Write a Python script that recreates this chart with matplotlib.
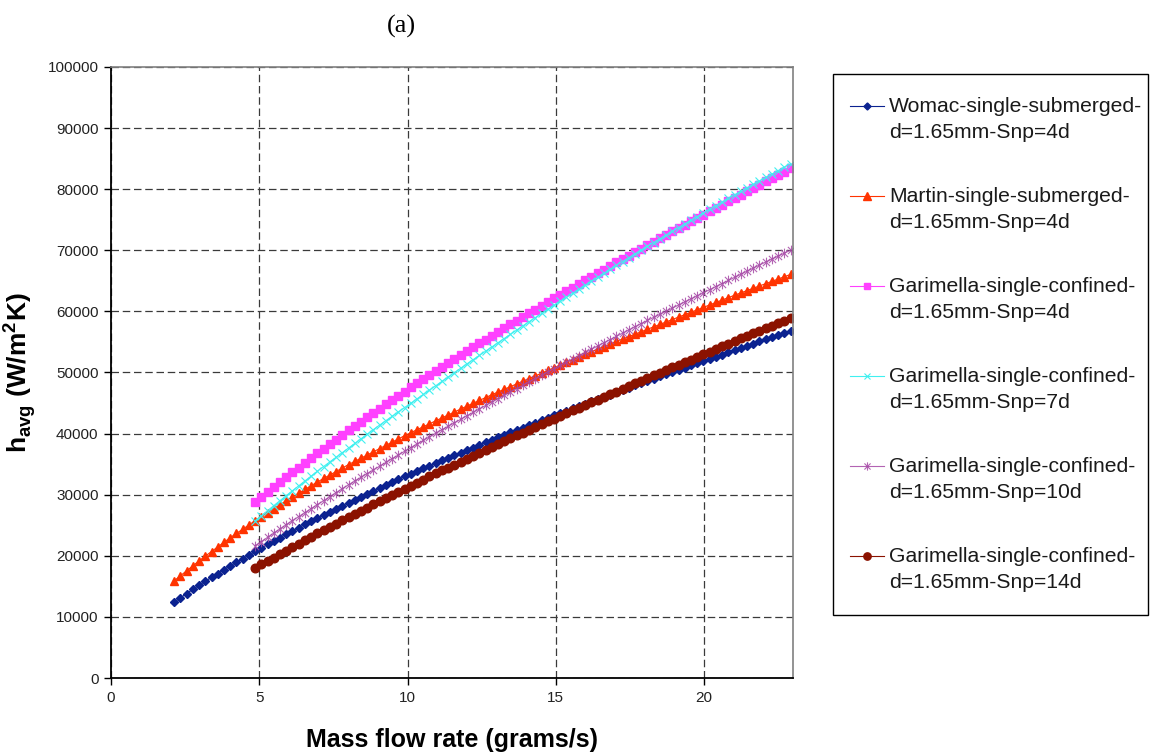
import matplotlib
matplotlib.use("Agg")
import matplotlib.pyplot as plt
from matplotlib.path import Path
from matplotlib.patches import Rectangle
from matplotlib.lines import Line2D
from matplotlib.legend_handler import HandlerLine2D
from matplotlib.transforms import Affine2D

plt.rcParams['font.family'] = ['Liberation Sans', 'DejaVu Sans']
plt.rcParams['mathtext.fontset'] = 'custom'
plt.rcParams['mathtext.rm'] = 'Liberation Sans'
plt.rcParams['mathtext.bf'] = 'Liberation Sans:bold'

# mass flow rate (grams/s) at each plotted point
x_flow = [2.13, 2.34, 2.55, 2.76, 2.97, 3.18, 3.39, 3.60, 3.81, 4.02,
          4.23, 4.44, 4.65, 4.86, 5.07, 5.28, 5.49, 5.70, 5.91, 6.12,
          6.33, 6.54, 6.75, 6.96, 7.17, 7.38, 7.59, 7.80, 8.01, 8.22,
          8.43, 8.64, 8.85, 9.06, 9.27, 9.48, 9.69, 9.90, 10.11, 10.32,
          10.53, 10.74, 10.95, 11.16, 11.37, 11.58, 11.79, 12.00, 12.21, 12.42,
          12.63, 12.84, 13.05, 13.26, 13.47, 13.68, 13.89, 14.10, 14.31, 14.52,
          14.73, 14.94, 15.15, 15.36, 15.57, 15.78, 15.99, 16.20, 16.41, 16.62,
          16.83, 17.04, 17.25, 17.46, 17.67, 17.88, 18.09, 18.30, 18.51, 18.72,
          18.93, 19.14, 19.35, 19.56, 19.77, 19.98, 20.19, 20.40, 20.61, 20.82,
          21.03, 21.24, 21.45, 21.66, 21.87, 22.08, 22.29, 22.50, 22.71, 22.92]
x_gari = x_flow[13:]

womac_4d = [12430, 13120, 13820, 14510, 15200, 15840, 16470, 17100, 17730, 18360,
            18940, 19530, 20120, 20710, 21290, 21860, 22420, 22990, 23560, 24100,
            24630, 25150, 25680, 26200, 26710, 27210, 27720, 28220, 28720, 29210,
            29690, 30170, 30660, 31130, 31590, 32060, 32520, 32980, 33430, 33870,
            34310, 34750, 35200, 35620, 36040, 36460, 36880, 37300, 37720, 38140,
            38560, 38980, 39400, 39790, 40190, 40590, 40990, 41390, 41790, 42190,
            42590, 42990, 43370, 43750, 44130, 44500, 44880, 45260, 45640, 46020,
            46390, 46770, 47150, 47530, 47910, 48280, 48650, 49010, 49370, 49720,
            50080, 50440, 50800, 51150, 51510, 51870, 52220, 52580, 52940, 53290,
            53650, 54010, 54370, 54720, 55080, 55440, 55790, 56150, 56510, 56860]

martin_4d = [15910, 16730, 17550, 18360, 19180, 19950, 20700, 21460, 22220, 22970,
             23660, 24350, 25050, 25740, 26420, 27070, 27720, 28370, 29020, 29650,
             30260, 30870, 31480, 32080, 32660, 33230, 33790, 34360, 34930, 35450,
             35980, 36500, 37030, 37550, 38080, 38600, 39130, 39650, 40150, 40640,
             41120, 41600, 42090, 42570, 43050, 43530, 44020, 44500, 44960, 45420,
             45890, 46350, 46810, 47250, 47690, 48130, 48570, 49010, 49450, 49890,
             50330, 50770, 51220, 51660, 52100, 52540, 52980, 53400, 53820, 54240,
             54660, 55080, 55480, 55870, 56270, 56670, 57070, 57470, 57870, 58270,
             58670, 59070, 59470, 59860, 60260, 60660, 61060, 61460, 61860, 62260,
             62650, 63030, 63410, 63790, 64170, 64540, 64920, 65300, 65680, 66060]

gari_4d = [28750, 29570, 30390, 31210, 32030, 32850, 33640,
           34420, 35200, 35980, 36750, 37510, 38270, 39020, 39780, 40530, 41250,
           41960, 42680, 43390, 44100, 44790, 45480, 46180, 46870, 47550, 48220,
           48900, 49570, 50240, 50900, 51550, 52200, 52850, 53500, 54130, 54760,
           55390, 56020, 56650, 57250, 57860, 58470, 59080, 59690, 60300, 60910,
           61520, 62130, 62720, 63310, 63900, 64480, 65070, 65660, 66250, 66840,
           67420, 68010, 68580, 69140, 69710, 70280, 70840, 71410, 71980, 72540,
           73110, 73660, 74210, 74760, 75300, 75850, 76390, 76940, 77490, 78030,
           78580, 79120, 79670, 80220, 80760, 81300, 81830, 82350, 82880, 83400]

gari_7d = [25750, 26570, 27390, 28210, 29030, 29850, 30660,
           31450, 32250, 33050, 33850, 34610, 35370, 36120, 36880, 37640, 38390,
           39150, 39900, 40660, 41400, 42120, 42830, 43550, 44260, 44970, 45690,
           46400, 47120, 47830, 48540, 49260, 49970, 50690, 51400, 52090, 52790,
           53480, 54170, 54870, 55560, 56250, 56940, 57640, 58320, 58990, 59660,
           60340, 61010, 61670, 62320, 62970, 63620, 64270, 64920, 65570, 66220,
           66870, 67520, 68150, 68780, 69410, 70040, 70660, 71270, 71880, 72490,
           73100, 73710, 74320, 74920, 75530, 76140, 76730, 77320, 77910, 78500,
           79080, 79650, 80220, 80780, 81350, 81920, 82480, 83050, 83620, 84180]

gari_10d = [21640, 22330, 23020, 23720, 24410, 25100, 25770,
            26420, 27070, 27730, 28380, 29030, 29680, 30330, 30980, 31630, 32240,
            32850, 33460, 34070, 34670, 35280, 35890, 36500, 37110, 37710, 38300,
            38880, 39470, 40060, 40630, 41200, 41770, 42330, 42900, 43470, 44030,
            44600, 45170, 45730, 46280, 46820, 47370, 47910, 48460, 49010, 49550,
            50100, 50640, 51180, 51700, 52230, 52750, 53280, 53800, 54330, 54850,
            55380, 55900, 56430, 56950, 57480, 58000, 58520, 59020, 59520, 60030,
            60530, 61040, 61540, 62040, 62550, 63050, 63560, 64060, 64560, 65070,
            65570, 66080, 66580, 67080, 67590, 68080, 68570, 69050, 69530, 70020]

gari_14d = [18020, 18590, 19160, 19720, 20290, 20860, 21420,
            21990, 22560, 23130, 23690, 24230, 24750, 25280, 25800, 26330, 26850,
            27380, 27900, 28430, 28940, 29450, 29950, 30460, 30960, 31460, 31970,
            32470, 32980, 33480, 33970, 34450, 34930, 35420, 35900, 36380, 36870,
            37350, 37830, 38310, 38770, 39230, 39700, 40160, 40620, 41080, 41540,
            42010, 42470, 42920, 43360, 43800, 44240, 44680, 45120, 45560, 46000,
            46440, 46880, 47330, 47770, 48210, 48650, 49090, 49530, 49970, 50410,
            50850, 51280, 51700, 52120, 52540, 52960, 53400, 53840, 54280, 54720,
            55160, 55580, 56000, 56420, 56840, 57250, 57650, 58050, 58450, 58850]

labels = ['Womac-single-submerged-\nd=1.65mm-Snp=4d',
          'Martin-single-submerged-\nd=1.65mm-Snp=4d',
          'Garimella-single-confined-\nd=1.65mm-Snp=4d',
          'Garimella-single-confined-\nd=1.65mm-Snp=7d',
          'Garimella-single-confined-\nd=1.65mm-Snp=10d',
          'Garimella-single-confined-\nd=1.65mm-Snp=14d']

x_ticks = [0, 5, 10, 15, 20]
y_ticks = [0, 10000, 20000, 30000, 40000, 50000, 60000, 70000, 80000, 90000, 100000]

# excel style star: an x with a vertical bar
star = Path([(-1, -1), (1, 1), (-1, 1), (1, -1), (0, -1.35), (0, 1.35)],
            [Path.MOVETO, Path.LINETO, Path.MOVETO, Path.LINETO, Path.MOVETO, Path.LINETO])


class FirstLineHandler(HandlerLine2D):
    # put the legend key level with the first line of a two line label
    def create_artists(self, legend, orig_handle, xdescent, ydescent, width, height,
                       fontsize, trans):
        arts = super().create_artists(legend, orig_handle, xdescent, ydescent,
                                      width, height, fontsize, trans)
        for a in arts:
            a.set_transform(Affine2D().translate(0, 9.6) + trans)
        return arts


W, H = 1151, 752
fig = plt.figure(figsize=(W / 100, H / 100), dpi=100)
ax = fig.add_axes([111 / W, 1 - 678 / H, (793 - 111) / W, (678 - 67) / H])

lw = 0.8
ax.plot(x_flow, womac_4d, color='#0B2290', marker='D', ms=4.2, lw=lw, label=labels[0])
ax.plot(x_flow, martin_4d, color='#FF3300', marker='^', ms=6.0, lw=lw, label=labels[1])
ax.plot(x_gari, gari_4d, color='#FF40FF', marker='s', ms=5.8, lw=lw, label=labels[2])
ax.plot(x_gari, gari_7d, color='#40F0F0', marker='x', ms=5.6, mew=0.8, lw=lw, label=labels[3])
ax.plot(x_gari, gari_10d, color='#A648A6', marker=star, ms=7, mew=0.8, lw=lw, alpha=0.85,
        label=labels[4])
ax.plot(x_gari, gari_14d, color='#8B1200', marker='o', ms=6.2, lw=lw, label=labels[5])

ax.set_xlim(0, 23)
ax.set_ylim(0, 100000)
ax.set_xticks(x_ticks)
ax.set_yticks(y_ticks)
ax.grid(True, color='#3a3a3a', ls=(0, (6, 3)), lw=0.9)
ax.set_axisbelow(True)
ax.tick_params(direction='out', length=5, width=1, labelsize=11, pad=4, labelcolor='#222222')

for side in ['left', 'bottom']:
    ax.spines[side].set_color('black')
    ax.spines[side].set_linewidth(1.3)
for side in ['top', 'right']:
    ax.spines[side].set_color('#808080')
    ax.spines[side].set_linewidth(1.2)

ax.set_xlabel('Mass flow rate (grams/s)', fontsize=18, fontweight='bold')
ax.xaxis.set_label_coords(0.5, -0.082)
ax.set_ylabel(r'h$_{\mathbf{avg}}$ (W/m$^{\mathbf{2}}$K)', fontsize=19, fontweight='bold')
ax.yaxis.set_label_coords(-0.107, 0.5)

fig.text(401 / W, 1 - 26 / H, '(a)', family='Liberation Serif', fontsize=19,
         ha='center', va='center')

leg = fig.legend(loc='upper left', bbox_to_anchor=(850 / W, 1 - 97 / H), frameon=False,
                 prop={'size': 15.2}, handlelength=1.6, handletextpad=0.25,
                 labelspacing=2.15, borderpad=0, borderaxespad=0, markerscale=0.85,
                 handler_map={Line2D: FirstLineHandler()})
for t in leg.get_texts():
    t.set_color('#1a1a1a')
    t.set_linespacing(1.44)
fig.add_artist(Rectangle((833 / W, 1 - 615 / H), (1148 - 833) / W, (615 - 74) / H,
                         transform=fig.transFigure, fill=False, ec='black', lw=1))

fig.savefig('out.png', dpi=100)
